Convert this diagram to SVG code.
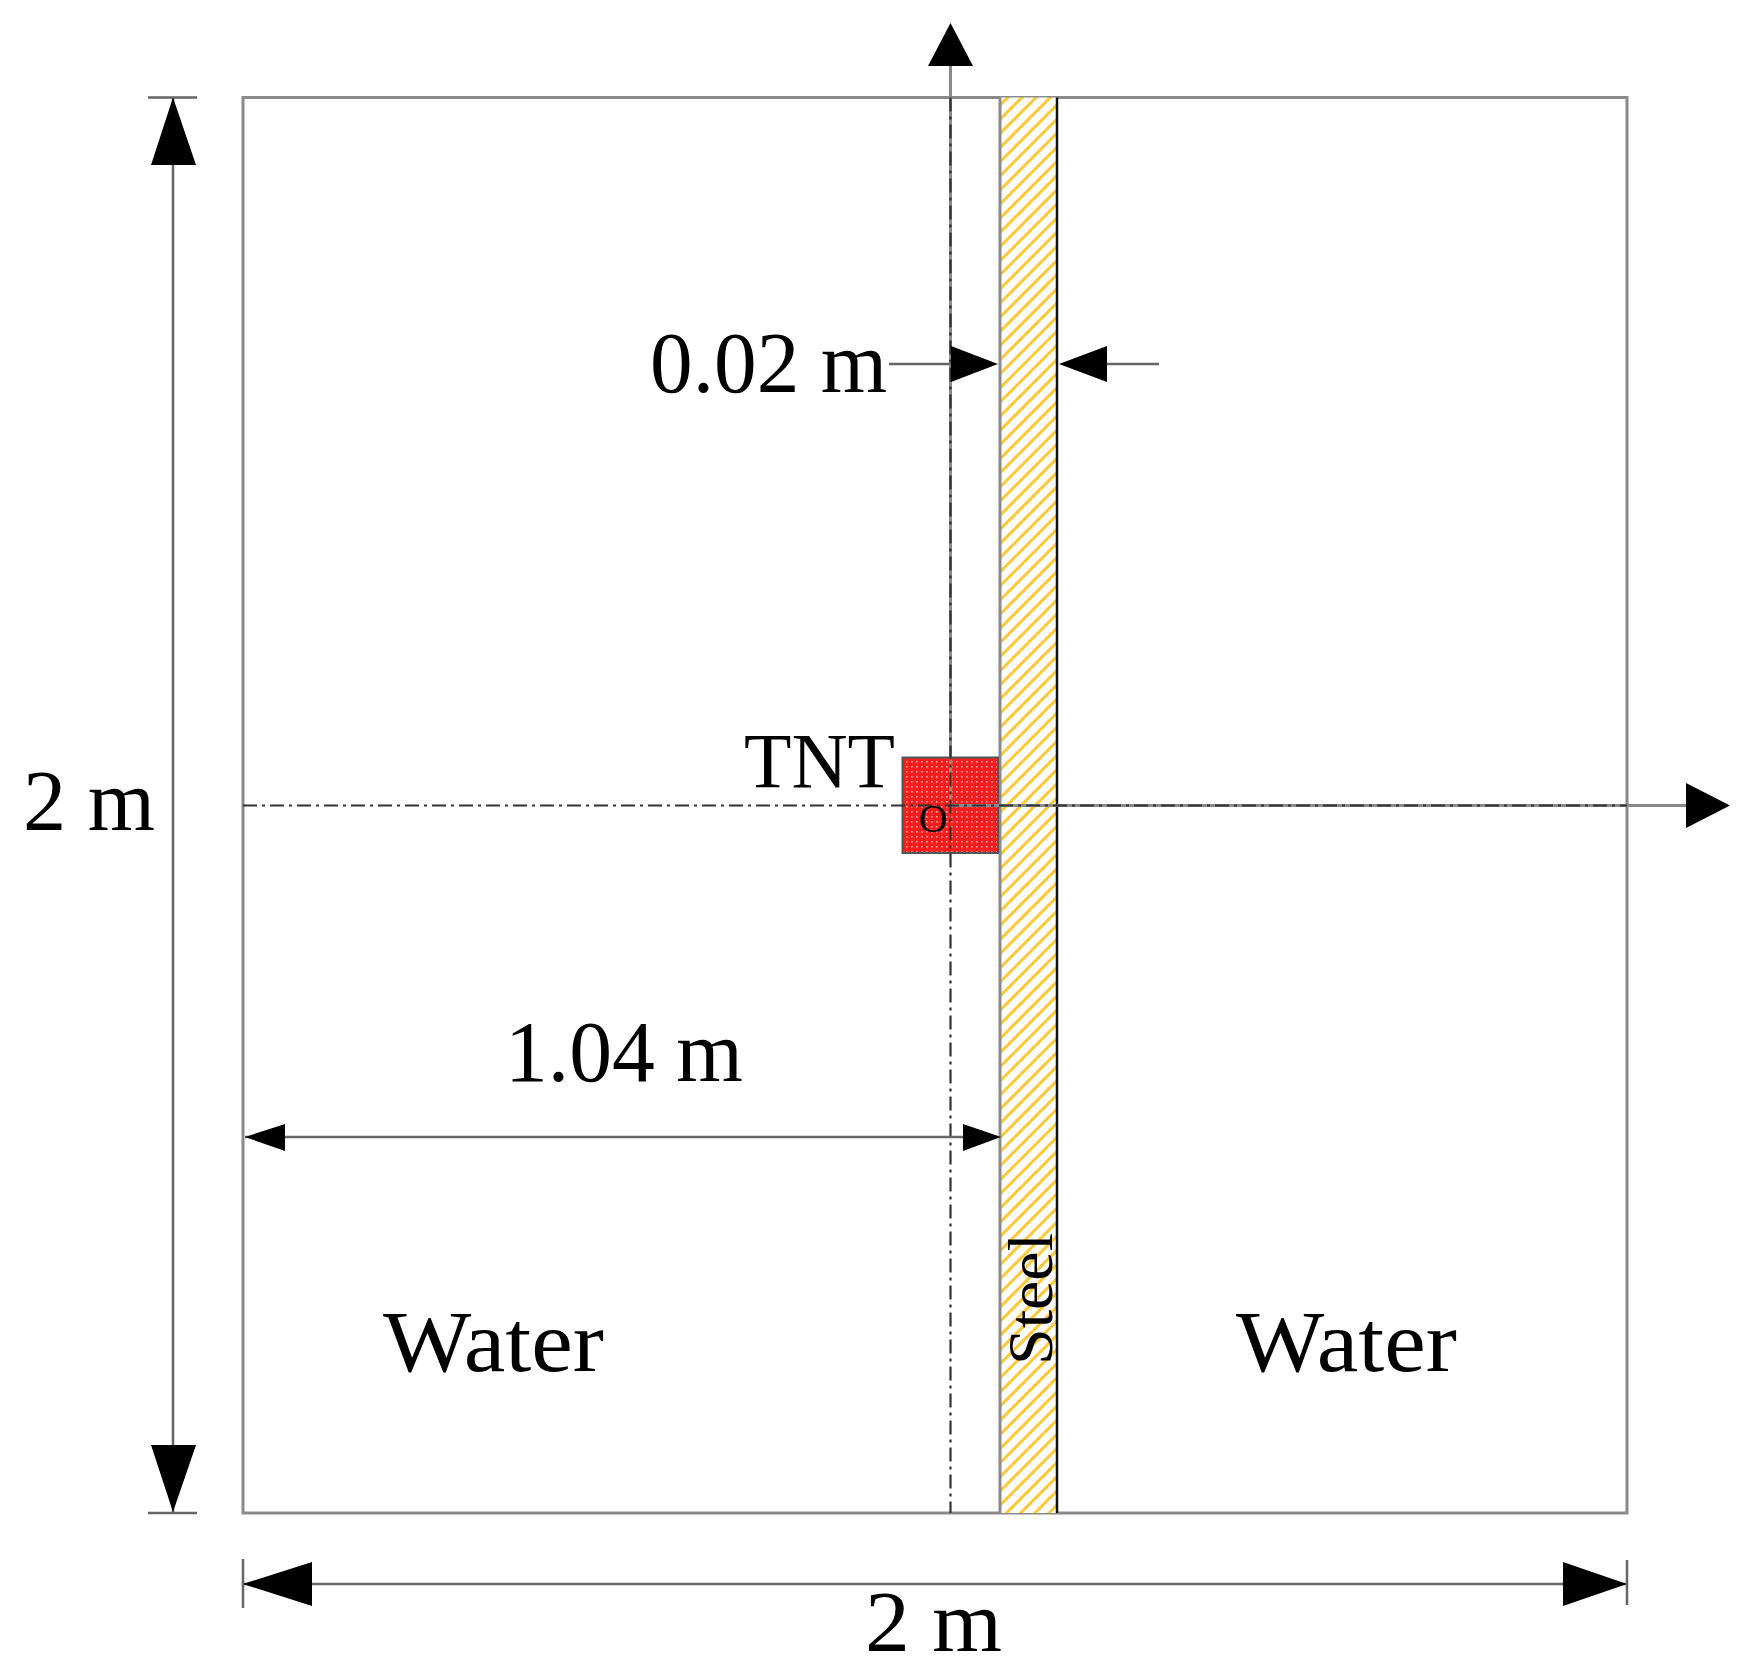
<svg xmlns="http://www.w3.org/2000/svg" width="1751" height="1678" viewBox="0 0 1751 1678">
<style>
.t{font-family:"Liberation Serif","Times New Roman",serif;fill:#000}
.frame{fill:none;stroke:#8a8a8a;stroke-width:3}
.axis{fill:none;stroke:#8a8a8a;stroke-width:3}
.cl{fill:none;stroke:#333;stroke-width:2.2;stroke-dasharray:14 5 3 5}
.dim{fill:none;stroke:#666;stroke-width:2.5}
.head{fill:#000}
</style>
<defs>
<pattern id="hatch" patternUnits="userSpaceOnUse" width="10" height="10" patternTransform="rotate(45)">
<rect width="10" height="10" fill="#fff"/>
<rect x="0" y="0" width="3" height="10" fill="#ffc837"/>
</pattern>
<pattern id="dots" patternUnits="userSpaceOnUse" width="5" height="5">
<rect width="5" height="5" fill="#f51e1e"/>
<rect x="1" y="1" width="1.6" height="1.6" fill="#ffa0a0"/>
</pattern>
</defs>
<rect width="1751" height="1678" fill="#fff"/>

<g id="domain">
<rect class="frame" x="243" y="97.5" width="1384" height="1415.5"/>
</g>

<g id="steel">
<rect x="1000" y="97.5" width="57" height="1415.5" fill="url(#hatch)"/>
<line x1="1000" y1="97.5" x2="1000" y2="1513" stroke="#8a8a8a" stroke-width="3"/>
<line x1="1057" y1="97.5" x2="1057" y2="1513" stroke="#111" stroke-width="2.5"/>
</g>

<g id="tnt">
<rect x="902.5" y="757.5" width="95.5" height="95.5" fill="url(#dots)" stroke="#555" stroke-width="2"/>
</g>

<g id="connectors">
<!-- axes -->
<line class="axis" x1="950.5" y1="805.5" x2="950.5" y2="60"/>
<polygon class="head" points="950.5,23 928,66 973,66"/>
<line class="axis" x1="950.5" y1="805.5" x2="1690" y2="805.5"/>
<polygon class="head" points="1730,805.5 1686,783 1686,828"/>
<!-- centerlines -->
<line class="cl" x1="950.5" y1="97.5" x2="950.5" y2="1513"/>
<line class="cl" x1="243" y1="805.5" x2="1627" y2="805.5"/>
<!-- 2 m vertical dimension -->
<line class="dim" x1="173" y1="97.5" x2="173" y2="1513"/>
<line class="dim" x1="148" y1="97.5" x2="197" y2="97.5"/>
<line class="dim" x1="148" y1="1513" x2="197" y2="1513"/>
<polygon class="head" points="173,97.5 151,165 196,165"/>
<polygon class="head" points="173,1512 151,1445 196,1445"/>
<!-- 2 m horizontal dimension -->
<line class="dim" x1="243" y1="1584" x2="1627" y2="1584"/>
<line class="dim" x1="243" y1="1559" x2="243" y2="1608"/>
<line class="dim" x1="1627" y1="1560" x2="1627" y2="1605"/>
<polygon class="head" points="243,1584 312,1562 312,1606"/>
<polygon class="head" points="1627,1584 1563,1562 1563,1606"/>
<!-- 1.04 m dimension -->
<line class="dim" x1="245" y1="1137" x2="998" y2="1137"/>
<polygon class="head" points="245,1137 285,1124 285,1151"/>
<polygon class="head" points="1001,1137 963,1124 963,1151"/>
<!-- 0.02 m dimension -->
<line class="dim" x1="889" y1="364" x2="955" y2="364"/>
<polygon class="head" points="998,364 951,346 951,382"/>
<line class="dim" x1="1100" y1="364" x2="1159" y2="364"/>
<polygon class="head" points="1059,364 1107,346 1107,382"/>
</g>

<g id="labels">
<text class="t" x="650" y="392" font-size="86" textLength="237" lengthAdjust="spacingAndGlyphs">0.02 m</text>
<text class="t" x="744" y="787" font-size="78" textLength="151" lengthAdjust="spacingAndGlyphs">TNT</text>
<text class="t" x="933" y="832" font-size="40" text-anchor="middle">O</text>
<text class="t" x="23" y="830" font-size="86" textLength="132" lengthAdjust="spacingAndGlyphs">2 m</text>
<text class="t" x="865" y="1651" font-size="86" textLength="137" lengthAdjust="spacingAndGlyphs">2 m</text>
<text class="t" x="505" y="1081" font-size="86" textLength="238" lengthAdjust="spacingAndGlyphs">1.04 m</text>
<text class="t" x="383" y="1371" font-size="86" textLength="221" lengthAdjust="spacingAndGlyphs">Water</text>
<text class="t" x="1236" y="1371" font-size="86" textLength="221" lengthAdjust="spacingAndGlyphs">Water</text>
<text class="t" transform="translate(1052,1365) rotate(-90)" font-size="64" textLength="132" lengthAdjust="spacingAndGlyphs">Steel</text>
</g>
</svg>
